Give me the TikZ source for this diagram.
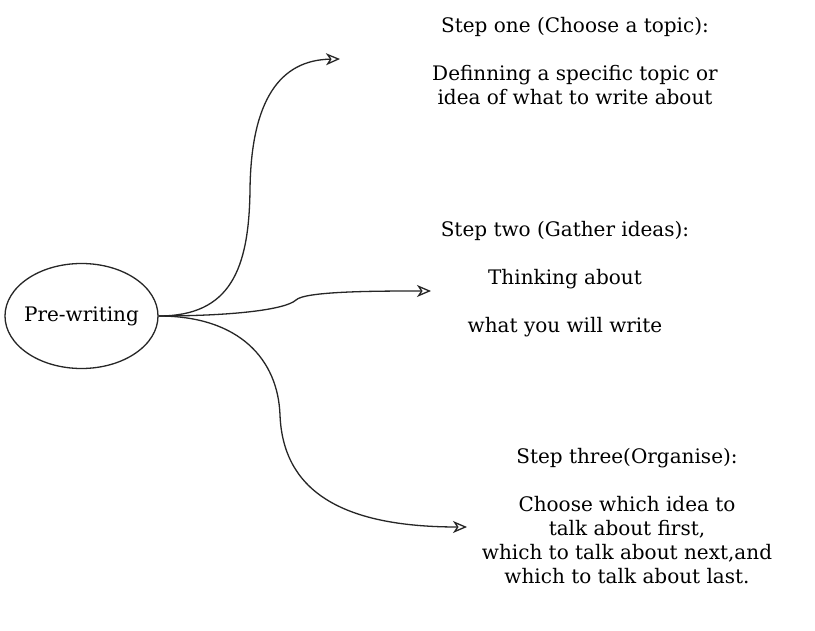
\documentclass[tikz,border=0pt]{standalone}
\usepackage{fontspec}
\setmainfont{DejaVu Serif}
\usetikzlibrary{arrows.meta,shapes.geometric}
\begin{document}
\begin{tikzpicture}[x=1pt,y=-1pt,
  conn/.style={draw=black!85,line width=1.3pt,-{Stealth[open,inset=4pt,length=14pt,width=12pt,line width=1.3pt]}},
  txt/.style={align=center,inner sep=0pt,font=\fontsize{20}{24}\selectfont},
  bubble/.style={ellipse,draw=black!85,line width=1.3pt,minimum width=153pt,minimum height=105pt,inner sep=-3.5pt,font=\fontsize{20}{24}\selectfont}]
\fill[white] (0,0) rectangle (815,631);
\useasboundingbox (0,0) rectangle (815,631);
\node[bubble] (pw) at (81.5,316) {Pre-writing};
\coordinate (e1) at (340,59);
\coordinate (e2) at (431,291);
\coordinate (e3) at (467,527);
\node[txt] (s1) at (575,61) {Step one (Choose a topic):\\[24pt]Definning a specific topic or\\idea of what to write about};
\node[txt] (s2) at (565,279) {Step two (Gather ideas):\\[24pt]Thinking about\\[24pt]what you will write};
\node[txt] (s3) at (627,516) {Step three(Organise):\\[24pt]Choose which idea to\\talk about first,\\which to talk about next,and\\which to talk about last.};
\draw[conn] (pw.east) .. controls (230,316) and (249,270) .. (250,190) .. controls (251,100) and (280,60) .. (e1);
\draw[conn] (pw.east) .. controls (230,316) and (285,310) .. (296,300) .. controls (305,291) and (380,291) .. (e2);
\draw[conn] (pw.east) .. controls (240,316) and (278,360) .. (280,415) .. controls (283,490) and (340,527) .. (e3);
\end{tikzpicture}
\end{document}
